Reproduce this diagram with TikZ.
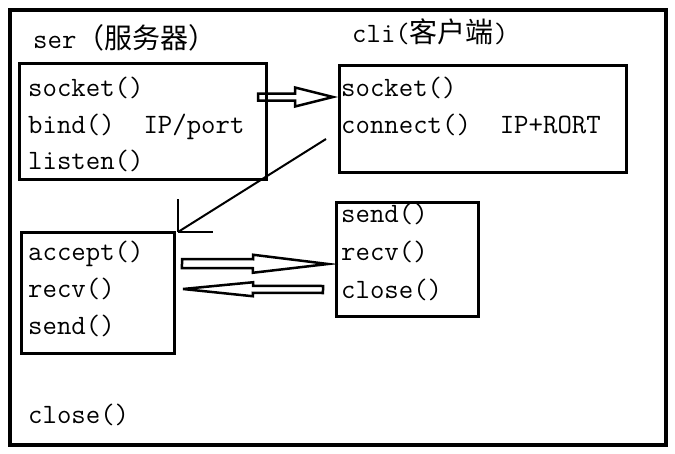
\documentclass[tikz,border=0pt]{standalone}
\usepackage{fontspec}
\newfontfamily\cjkfont{Noto Sans CJK SC}
\usepackage{tikz}
\usetikzlibrary{calc}

\tikzset{
	box/.style={draw, line width=3pt, inner sep=0pt},
	txt/.style={anchor=base west, inner sep=0pt, font=\fontsize{28}{28}\selectfont\ttfamily},
	fat/.style={draw, line width=2.5pt, line join=miter},
}
% hollow arrow: from, tip, shaft half width, head half width, head length
\newcommand{\hollowarrow}[5]{%
	\coordinate (hb) at ($(#2)!#5!(#1)$);
	\draw[fat] ($(#1)!#3!90:(#2)$) -- ($(hb)!#3!-90:(#1)$) -- ($(hb)!#4!-90:(#1)$) -- (#2)
		-- ($(hb)!#4!90:(#1)$) -- ($(hb)!#3!90:(#1)$) -- ($(#1)!#3!-90:(#2)$) -- cycle;
}

\begin{document}
\begin{tikzpicture}[x=1pt,y=-1pt]
			\useasboundingbox (0,0) rectangle (675,453);
			\node[draw, line width=4pt, inner sep=0pt, minimum width=656pt, minimum height=435pt] (frame) at (338,227.5) {};
			\node[txt] (ser) at (33,48) {ser{\cjkfont （服务器）}};
			\node[txt] (cli) at (352,42) {cli({\cjkfont 客户端})};
			% server
			\node[box, minimum width=247pt, minimum height=116pt] (srv) at (142.5,121) {};
			\node[txt] (s1) at (28,96) {socket()};
			\node[txt] (s2) at (28,133) {bind()\ \ IP/port};
			\node[txt] (s3) at (28,169) {listen()};
			\node[box, minimum width=153pt, minimum height=121pt] (acc) at (97.5,292.5) {};
			\node[txt] (a1) at (28,260) {accept()};
			\node[txt] (a2) at (28,297) {recv()};
			\node[txt] (a3) at (28,334) {send()};
			\node[txt] (fin) at (28,423) {close()};
			% client
			\node[box, minimum width=287pt, minimum height=107pt] (cln) at (482.5,118.5) {};
			\node[txt] (c1) at (341,96) {socket()};
			\node[txt] (c2) at (341,133) {connect()\ \ IP+RORT};
			\node[box, minimum width=142pt, minimum height=114pt] (cio) at (407,259) {};
			\node[txt] (d1) at (341,222) {send()};
			\node[txt] (d2) at (341,260) {recv()};
			\node[txt] (d3) at (341,298) {close()};
			% arrows
			\coordinate (p1) at (258,97);
			\coordinate (q1) at (333,97);
			\hollowarrow{p1}{q1}{3.5pt}{9.5pt}{38pt}
			\coordinate (p2) at (182,263.5);
			\coordinate (q2) at (328,264);
			\hollowarrow{p2}{q2}{4.5pt}{9pt}{75pt}
			\coordinate (p3) at (323,289.5);
			\coordinate (q3) at (183,289);
			\hollowarrow{p3}{q3}{3.5pt}{7pt}{70pt}
			\coordinate (from) at (326,139);
			\coordinate (tip) at (178,232);
			\draw[line width=2pt] (from) -- (tip);
			\draw[line width=2pt] (tip) -- ++(0,-33);
			\draw[line width=2pt] (tip) -- ++(35,0);
		\end{tikzpicture}
\end{document}
